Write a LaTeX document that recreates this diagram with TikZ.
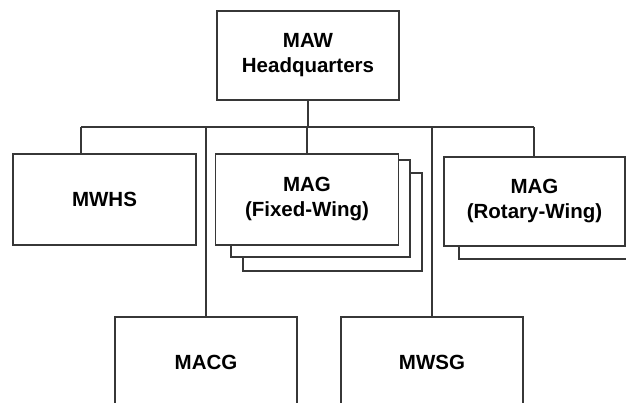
\documentclass[tikz,border=0pt]{standalone}
\usepackage{fontspec}
\setmainfont{Liberation Sans}
\usepackage{tikz}
\usetikzlibrary{positioning,calc}
\definecolor{ln}{RGB}{55,55,55}
\tikzset{
  orgbox/.style={draw=ln,line width=1.3pt,fill=white,inner sep=0pt,align=center,
    font=\fontsize{20.5}{25}\selectfont\bfseries},
  stackbox/.style={draw=ln,line width=1.3pt,fill=white,inner sep=0pt},
  tie/.style={draw=ln,line width=1.3pt}
}

\begin{document}
\begin{tikzpicture}[x=1pt,y=-1pt]
  \useasboundingbox[fill=white] (0,0) rectangle (626,402);

  % top
  \node[orgbox,minimum width=182pt,minimum height=89pt] (hq) at (308,55.5) {MAW\\Headquarters};

  % bus
  \coordinate (busL) at (81,127);
  \coordinate (busR) at (534,127);

  % second row
  \node[orgbox,minimum width=183pt,minimum height=91pt] (mwhs) at (104.5,199.5) {MWHS};

  \node[stackbox,minimum width=179pt,minimum height=98pt] (fw3) at (332.5,222) {};
  \node[stackbox,minimum width=179pt,minimum height=97pt] (fw2) at (320.5,208.5) {};
  \node[orgbox,minimum width=183pt,minimum height=91pt] (fw) at (307,199.5) {MAG\\(Fixed-Wing)};

  \node[stackbox,minimum width=181pt,minimum height=89pt] (rw2) at (549.5,214.5) {};
  \node[orgbox,minimum width=181pt,minimum height=89pt] (rw) at (534.5,201.5) {MAG\\(Rotary-Wing)};

  % third row
  \node[orgbox,minimum width=182pt,minimum height=91pt] (macg) at (206,362.5) {MACG};
  \node[orgbox,minimum width=182pt,minimum height=91pt] (mwsg) at (432,362.5) {MWSG};

  % connectors
  \draw[tie] (hq.south) -- (hq.south |- busL);
  \draw[tie] (busL) -- (busR);
  \draw[tie] (busL) -- (busL |- mwhs.north);
  \draw[tie] (fw.north |- busL) -- (fw.north);
  \draw[tie] (busR) -- (busR |- rw.north);
  \draw[tie] (macg.north |- busL) -- (macg.north);
  \draw[tie] (mwsg.north |- busL) -- (mwsg.north);
\end{tikzpicture}
\end{document}
